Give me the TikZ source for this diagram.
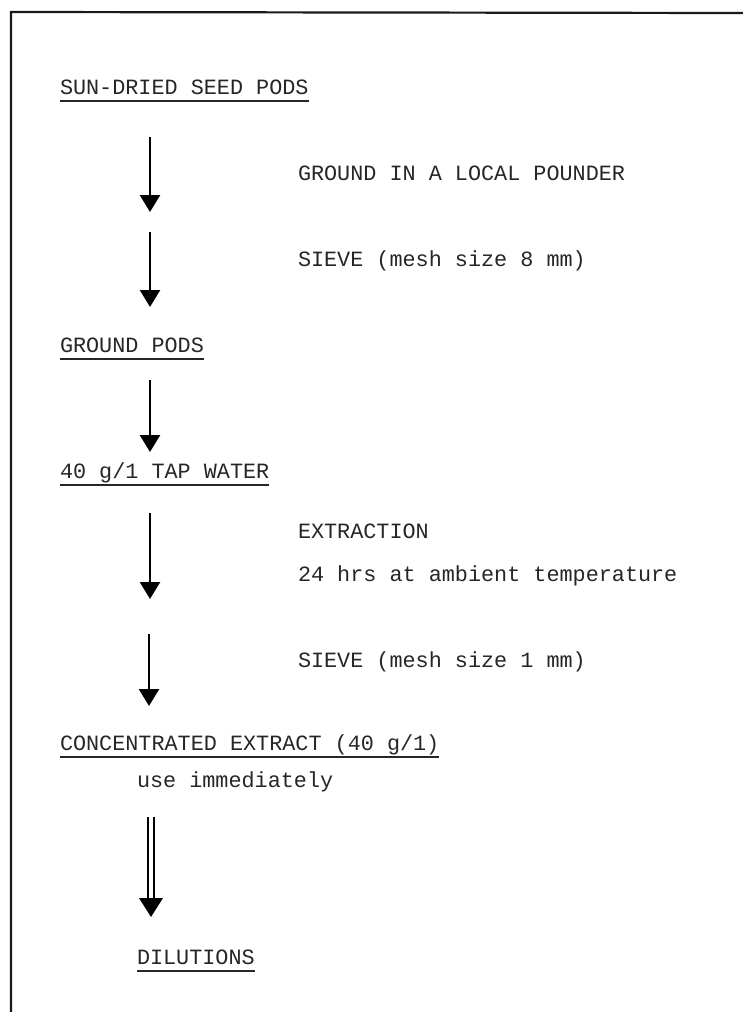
\documentclass[tikz,border=0pt]{standalone}
\usepackage{fontspec}
\newfontfamily\tw{Liberation Mono}
\usetikzlibrary{arrows.meta}
\tikzset{
  lbl/.style={anchor=base west, inner sep=0pt, outer sep=0pt, font=\tw\fontsize{21.8}{26}\selectfont, text=black!85},
  uline/.style={line width=1.3pt, black!85},
  flow/.style={line width=2.4pt, -{Triangle[width=20pt,length=17pt]}},
  frame/.style={line width=2.2pt, black!90}
}
\begin{document}
\begin{tikzpicture}[x=1pt,y=-1pt]
\useasboundingbox (0,0) rectangle (742,1012);
% frame
\draw[frame] (11,1013) -- (11,12) -- (743,13);

% main items
\node[lbl] (sun) at (60,94) {SUN-DRIED SEED PODS};
\node[lbl] (gpods) at (60,352) {GROUND PODS};
\node[lbl] (water) at (60,478) {40 g/1 TAP WATER};
\node[lbl] (conc) at (60,750) {CONCENTRATED EXTRACT (40 g/1)};
\node[lbl] (use) at (137,787) {use immediately};
\node[lbl] (dil) at (137,964) {DILUTIONS};

% side labels
\node[lbl] (ground) at (298,180) {GROUND IN A LOCAL POUNDER};
\node[lbl] (sieve1) at (298,266) {SIEVE (mesh size 8 mm)};
\node[lbl] (extr) at (298,538) {EXTRACTION};
\node[lbl] (hrs) at (298,581) {24 hrs at ambient temperature};
\node[lbl] (sieve2) at (298,667) {SIEVE (mesh size 1 mm)};

% underlines
\foreach \n in {sun,gpods,water,conc,dil}{
  \draw[uline] ([yshift=-7pt]\n.base west) -- ([yshift=-7pt]\n.base east);
}

% arrow end points
\coordinate (a1s) at (150,137); \coordinate (a1e) at (150,212);
\coordinate (a2s) at (150,232); \coordinate (a2e) at (150,307);
\coordinate (a3s) at (150,380); \coordinate (a3e) at (150,452);
\coordinate (a4s) at (150,513); \coordinate (a4e) at (150,599);
\coordinate (a5s) at (149,634); \coordinate (a5e) at (149,706);

\draw[flow] (a1s) -- (a1e);
\draw[flow] (a2s) -- (a2e);
\draw[flow] (a3s) -- (a3e);
\draw[flow] (a4s) -- (a4e);
\draw[flow] (a5s) -- (a5e);

% double arrow
\coordinate (dLs) at (148,817); \coordinate (dLe) at (148,900);
\coordinate (dRs) at (154,817); \coordinate (dRe) at (154,900);
\coordinate (dtip) at (151,917);
\draw[line width=2pt] (dLs) -- (dLe);
\draw[line width=2pt] (dRs) -- (dRe);
\fill ([xshift=-12pt]dtip |- 0,898) -- ([xshift=12pt]dtip |- 0,898) -- (dtip) -- cycle;
\end{tikzpicture}
\end{document}
